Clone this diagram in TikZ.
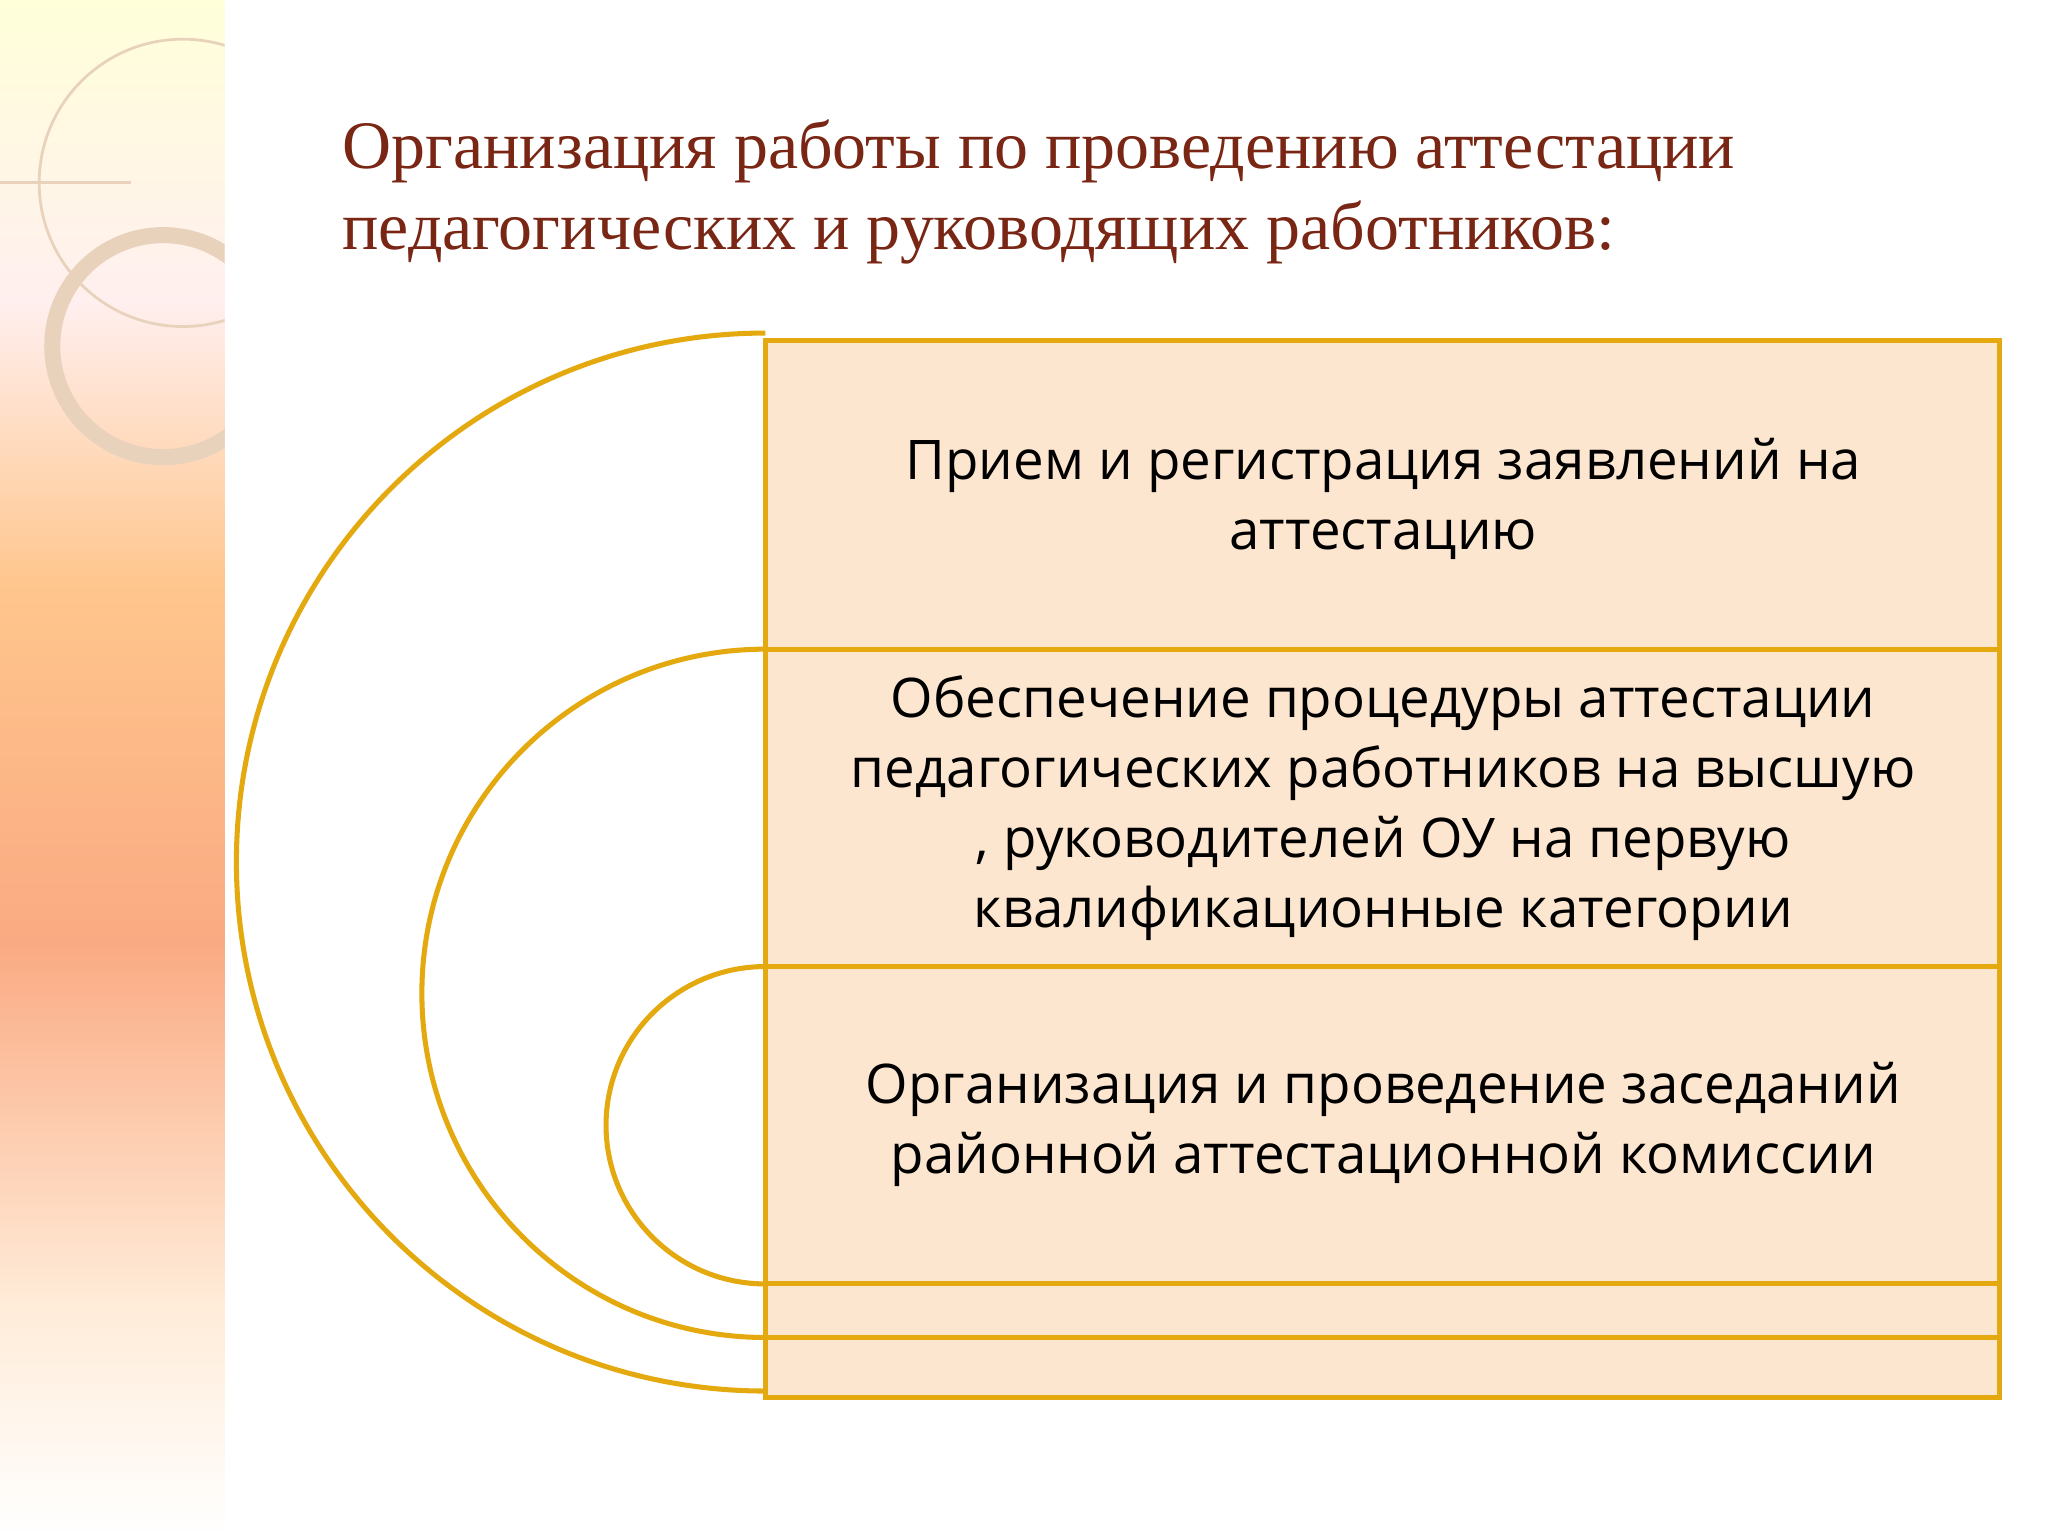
\documentclass[tikz,border=0pt]{standalone}
\usepackage{fontspec}
\setmainfont{Liberation Serif}
\newfontfamily\bodyf{Open Sans}
\definecolor{gold}{HTML}{E3A90F}
\definecolor{peach}{HTML}{FDE6CF}
\definecolor{titlec}{HTML}{7A2614}
\begin{document}
\begin{tikzpicture}[x=0.02cm,y=-0.02cm,
  line/.style={draw=gold,line width=2.2pt},
  txt/.style={font=\bodyf\fontsize{23.8}{30.5}\selectfont,align=center,text=black}]
\useasboundingbox (0,0) rectangle (1568,1176);
\fill[white] (0,0) rectangle (1568,1176);
% left strip
\shade[top color=yellow!15!white,bottom color=pink!25!white] (0,0) rectangle (172,230);
\shade[top color=pink!25!white,bottom color=orange!45!white] (0,230) rectangle (172,450);
\shade[top color=orange!45!white,bottom color={rgb,255:red,250;green,170;blue,130}] (0,450) rectangle (172,720);
\shade[top color={rgb,255:red,250;green,170;blue,130},bottom color=orange!15!white] (0,720) rectangle (172,1000);
\shade[top color=orange!15!white,bottom color=white] (0,1000) rectangle (172,1176);
\begin{scope}
\clip (0,0) rectangle (172,1176);
\draw[brown!35!white,line width=1.2pt] (140,140) circle (110);
\draw[brown!35!white,line width=1.2pt] (0,140) -- (100,140);
\draw[brown!35!white,line width=7pt] (125,265) circle (85);
\end{scope}
% title
\node[anchor=west,text=titlec,font=\fontsize{29.6}{35}\selectfont,align=left] (title) at (256,147)
 {Организация работы по проведению аттестации\\педагогических и руководящих работников:};
% boxes
\fill[peach] (586,261) rectangle (1531,1070);
\draw[line] (586,261) rectangle (1531,1070);
\draw[line] (586,497) -- (1531,497);
\draw[line] (586,740) -- (1531,740);
\draw[line] (586,983) -- (1531,983);
\draw[line] (586,1024) -- (1531,1024);
% arcs
\draw[line] (586,255) arc[start angle=90,end angle=270,x radius=405,y radius=-405];
\draw[line] (586,497) arc[start angle=90,end angle=270,x radius=263,y radius=-263.5];
\draw[line] (586,740) arc[start angle=90,end angle=270,x radius=122,y radius=-121.5];
\node[txt] (b1) at (1059,382) {Прием и регистрация заявлений на\\аттестацию};
\node[txt] (b2) at (1059,619) {Обеспечение процедуры аттестации\\педагогических работников на высшую\\, руководителей ОУ на первую\\квалификационные категории};
\node[txt] (b3) at (1059,861) {Организация и проведение заседаний\\районной аттестационной комиссии};
\end{tikzpicture}
\end{document}
